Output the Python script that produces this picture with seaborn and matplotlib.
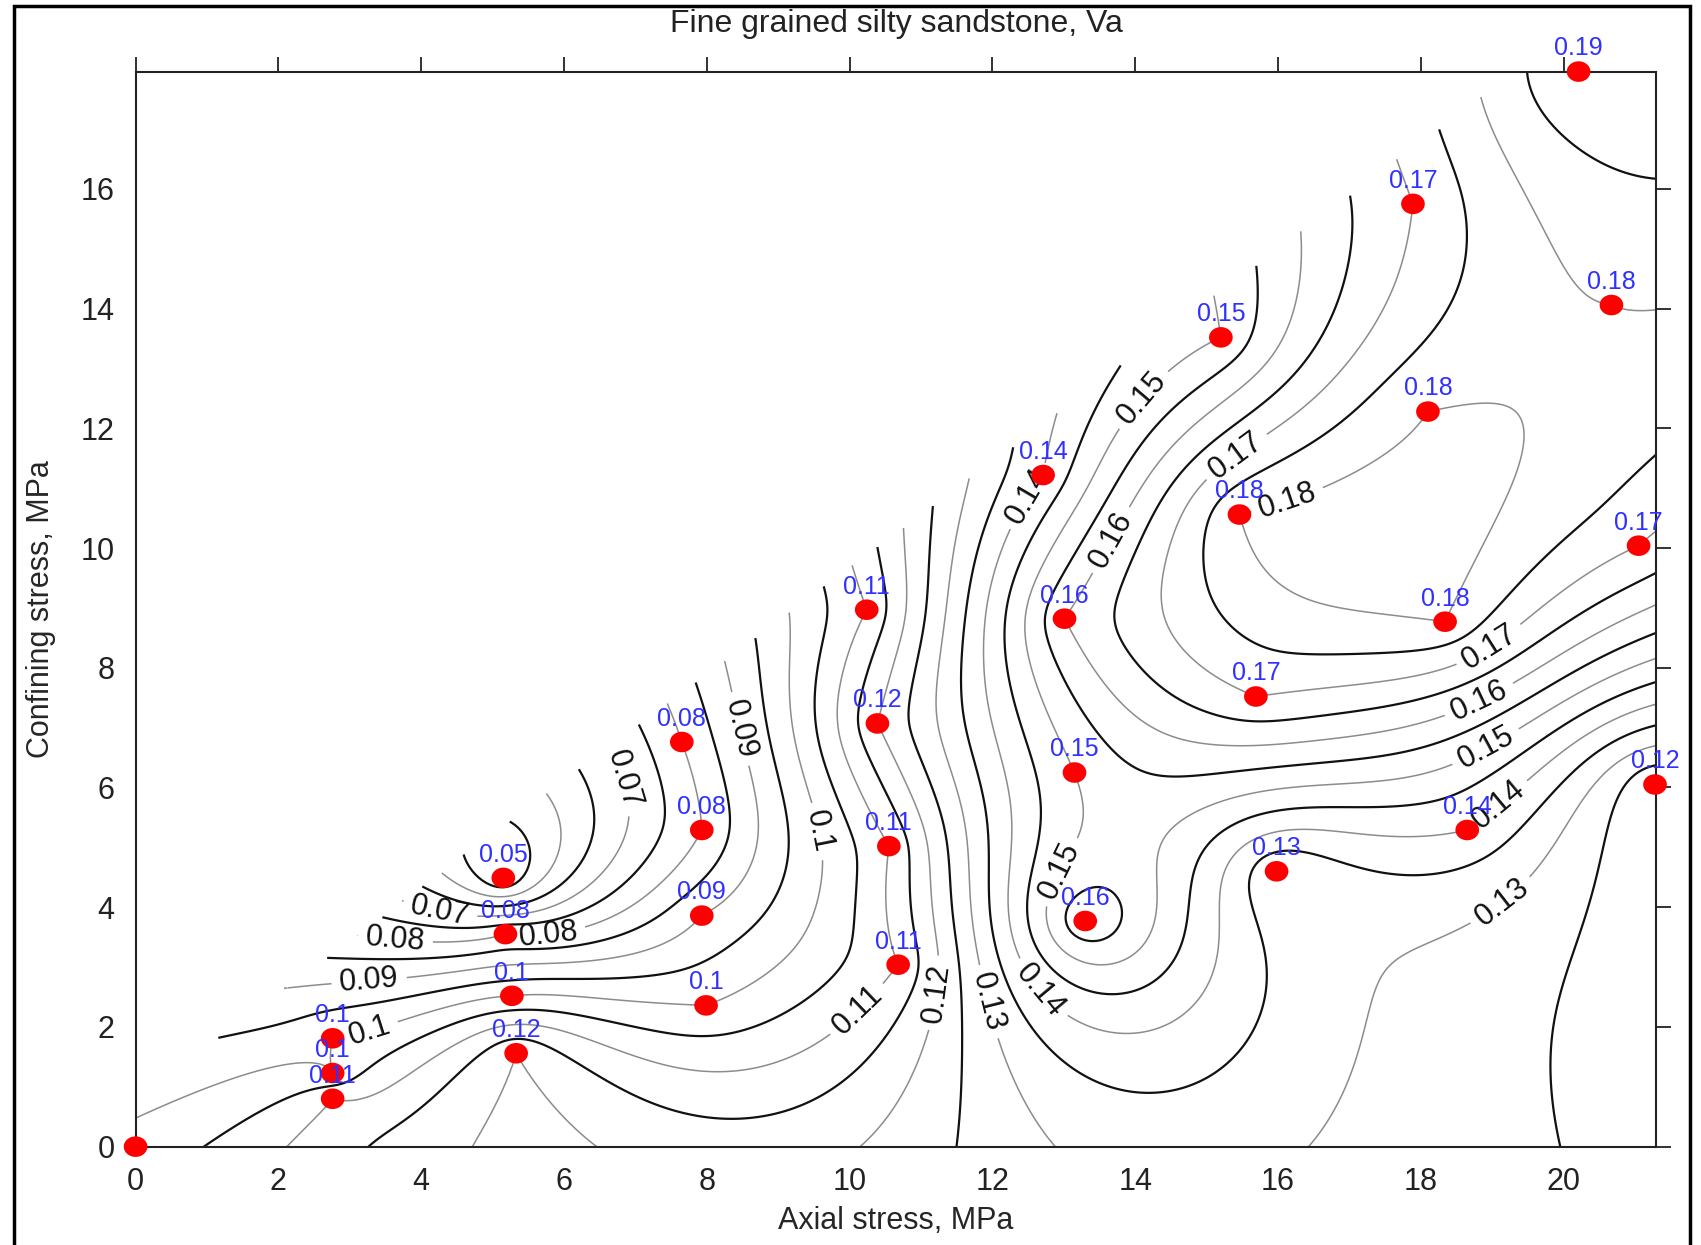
import numpy as np
import pandas as pd
import matplotlib
matplotlib.use("Agg")
import matplotlib.pyplot as plt
import seaborn as sns
from matplotlib.patches import Rectangle
from matplotlib.path import Path

# measured points: axial stress, confining stress, Va
axial = [0.0, 2.76, 2.76, 2.76, 5.33, 5.27, 5.18, 5.15,
         7.99, 7.93, 7.93, 7.65, 10.24, 10.39, 10.55, 10.68,
         12.71, 13.01, 13.15, 13.30, 15.20, 15.46, 15.69, 15.98,
         17.89, 18.10, 18.34, 18.65, 20.21, 20.67, 21.05, 21.28]
confining = [0.0, 0.80, 1.23, 1.81, 1.56, 2.52, 3.55, 4.49,
             2.36, 3.86, 5.29, 6.76, 8.97, 7.07, 5.02, 3.04,
             11.22, 8.82, 6.25, 3.77, 13.52, 10.56, 7.52, 4.60,
             15.75, 12.28, 8.77, 5.29, 17.96, 14.06, 10.04, 6.05]
va = [0.102, 0.11, 0.10, 0.10, 0.12, 0.10, 0.08, 0.05,
      0.10, 0.09, 0.08, 0.08, 0.11, 0.12, 0.11, 0.11,
      0.14, 0.16, 0.15, 0.16, 0.15, 0.18, 0.17, 0.13,
      0.17, 0.18, 0.18, 0.14, 0.19, 0.18, 0.17, 0.12]
show_label = [False] + [True] * 31

df = pd.DataFrame({"axial": axial, "confining": confining, "va": va})

# kriging with a linear variogram (same as rbf with phi(r) = r + constant)
px = df["axial"].to_numpy()
py = df["confining"].to_numpy()
pz = df["va"].to_numpy()
n = len(px)
r = np.hypot(px[:, None] - px[None, :], py[:, None] - py[None, :])
A = np.zeros((n + 1, n + 1))
A[:n, :n] = -r
A[:n, n] = 1
A[n, :n] = 1
b = np.append(pz, 0)
coef = np.linalg.solve(A, b)

xmax, ymax = 21.3, 17.96
gx = np.linspace(0, xmax, 430)
gy = np.linspace(0, ymax, 360)
GX, GY = np.meshgrid(gx, gy)
rg = np.hypot(GX[..., None] - px, GY[..., None] - py)
Z = -(rg * coef[:n]).sum(axis=-1) + coef[n]
# blank the upper-left corner where there is no data
Z = np.ma.masked_where(GY > 0.889 * GX + 0.8, Z)

# labelled (grey) lines every 0.01, black lines half way between
levels = np.round(np.arange(0.05, 0.1951, 0.005), 3)
labelled = [l for l in levels if abs(l * 100 - round(l * 100)) < 1e-6]
half = [l for l in levels if l not in labelled]

sns.set_style("white")
plt.rcParams["font.family"] = ["Liberation Sans", "DejaVu Sans"]

fig = plt.figure(figsize=(17.01, 12.45), dpi=100)
ax = fig.add_axes([0.0797, 0.079, 0.8941, 0.8635])

ax.contour(GX, GY, Z, levels=half, colors="#111111", linewidths=1.6)
cs = ax.contour(GX, GY, Z, levels=labelled, colors="#8c8c8c", linewidths=1.1)

label_pos = [(4.27, 3.97), (6.73, 6.1), (3.64, 3.52), (5.77, 3.62),
             (3.27, 2.79), (8.40, 6.96), (3.27, 1.98), (9.46, 5.24),
             (10.1, 2.3), (11.19, 2.57), (11.84, 2.39), (12.71, 2.66),
             (12.45, 10.91), (19.06, 5.74), (19.06, 4.2), (14.14, 12.45),
             (12.94, 4.6), (18.9, 6.7), (13.59, 10.18), (18.83, 7.43),
             (15.41, 11.54), (18.98, 8.33), (16.1, 10.91)]
lbls = ax.clabel(cs, fmt=lambda v: f"{v:.2f}".rstrip("0"), manual=label_pos,
                 fontsize=22, inline=True, inline_spacing=8, colors="#111111")

# red sample markers, slightly wider than tall
t = np.linspace(0, 2 * np.pi, 60)
dot = Path(np.column_stack([1.15 * np.cos(t), 1.0 * np.sin(t)]), closed=True)
sns.scatterplot(data=df, x="axial", y="confining", ax=ax, color="#ff0000",
                marker=dot, s=290, edgecolor="none", zorder=5, legend=False,
                clip_on=False)
for xv, yv, v, show in zip(axial, confining, va, show_label):
    if show:
        ax.annotate(f"{v:g}", (xv, yv), xytext=(0, 8),
                    textcoords="offset points", ha="center", va="bottom",
                    color="#3030ff", fontsize=18, zorder=6)

ax.set_xlim(0, xmax)
ax.set_ylim(0, ymax)
ax.set_xticks(np.arange(0, 21, 2))
ax.set_yticks(np.arange(0, 17, 2))
ax.tick_params(axis="both", which="both", direction="out", length=11, width=1.3,
               labelsize=22, colors="#222222", top=True, right=True,
               labeltop=False, labelright=False, pad=4)
for s in ax.spines.values():
    s.set_linewidth(1.5)
    s.set_color("#222222")

ax.set_xlabel("Axial stress, MPa", fontsize=22, labelpad=6)
ax.set_ylabel("Confining stress, MPa", fontsize=22, labelpad=18)
fig.text(0.527, 0.981, "Fine grained silty sandstone, Va", ha="center", va="center",
         fontsize=23, color="#222222")

fig.patches.append(Rectangle((0.008, -0.01), 0.9855, 1.005, transform=fig.transFigure,
                             fill=False, edgecolor="black", linewidth=2.5))

fig.savefig("out.png", dpi=100)
